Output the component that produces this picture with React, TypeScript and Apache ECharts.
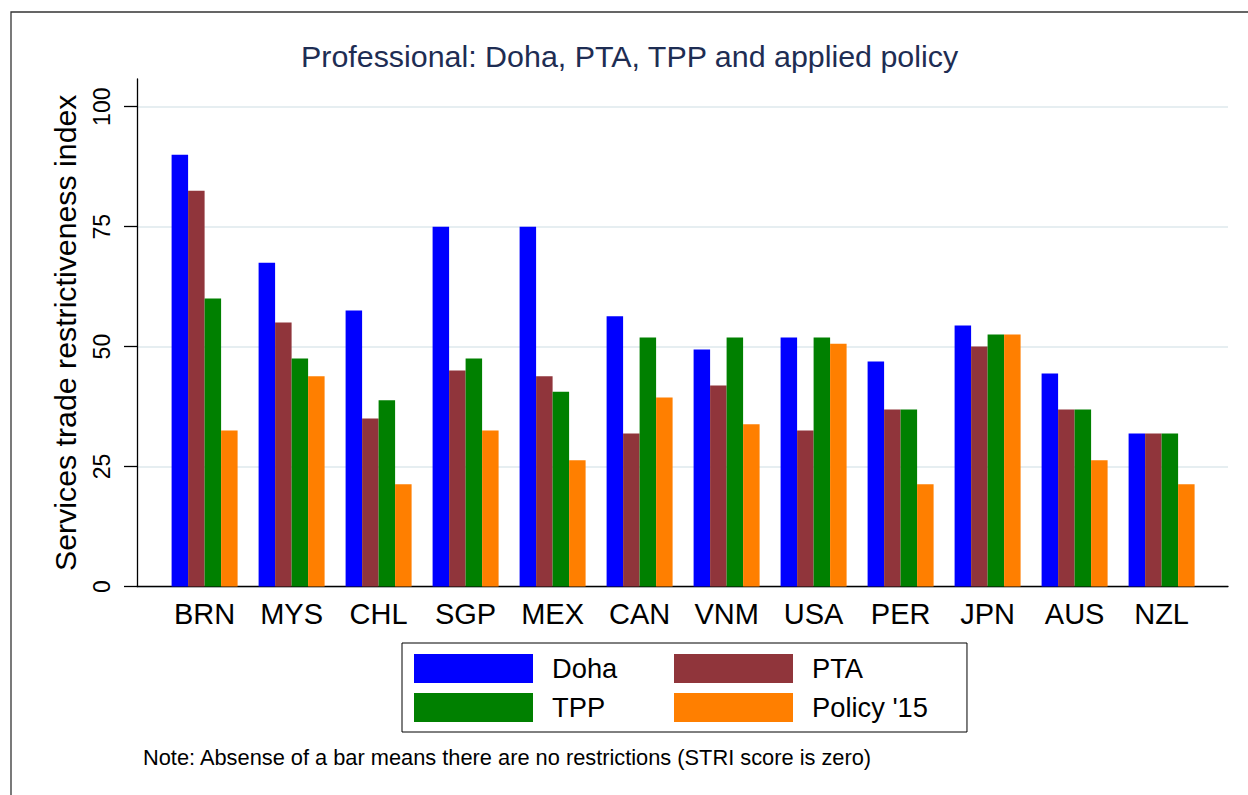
import React, { useEffect, useRef } from "react";
import * as echarts from "echarts";

const countries = ["BRN", "MYS", "CHL", "SGP", "MEX", "CAN", "VNM", "USA", "PER", "JPN", "AUS", "NZL"];
const doha = [90, 67.5, 57.5, 75, 75, 56.3, 49.4, 51.9, 46.9, 54.4, 44.4, 31.9];
const pta = [82.5, 55, 35, 45, 43.8, 31.9, 41.9, 32.5, 36.9, 50, 36.9, 31.9];
const tpp = [60, 47.5, 38.8, 47.5, 40.6, 51.9, 51.9, 51.9, 36.9, 52.5, 36.9, 31.9];
const policy15 = [32.5, 43.8, 21.3, 32.5, 26.3, 39.4, 33.8, 50.6, 21.3, 52.5, 26.3, 21.3];
const yTicks = [0, 25, 50, 75, 100];

const seriesNames = ["Doha", "PTA", "TPP", "Policy '15"];
const seriesColors = ["#0000ff", "#90353b", "#008000", "#ff7f00"];

const FONT = "'Liberation Sans', Arial, Helvetica, sans-serif";

export default function App() {
  const ref = useRef<HTMLDivElement>(null);

  useEffect(() => {
    if (!ref.current) return;
    const chart = echarts.init(ref.current, undefined, { renderer: "svg" });
    const values = [doha, pta, tpp, policy15];
    const plotTop = 106.7;
    const plotH = 479.8;
    const option: any = {
      animation: false,
      backgroundColor: "#ffffff",
      textStyle: { fontFamily: FONT },
      title: {
        text: "Professional: Doha, PTA, TPP and applied policy",
        left: 301,
        top: 41,
        padding: 0,
        textStyle: { fontFamily: FONT, fontSize: 30.4, fontWeight: "normal", color: "#1e2d53" },
      },
      legend: {
        data: seriesNames,
        left: 402,
        top: 643,
        width: 520,
        orient: "horizontal",
        icon: "rect",
        itemWidth: 119,
        itemHeight: 29,
        itemGap: 10,
        padding: [11, 39, 10, 12],
        borderColor: "#000000",
        borderWidth: 1,
        textStyle: {
          fontFamily: FONT,
          fontSize: 27.3,
          color: "#000000",
          width: 112,
          lineHeight: 29,
          overflow: "none",
          padding: [0, 0, 0, 14],
        },
      },
      grid: [
        { left: 137, width: 1091, top: 79, height: 586.5 - 79 },
        { left: 137, width: 1091, top: plotTop, height: plotH },
        { left: 161.1, width: 1044, top: plotTop, height: plotH },
      ],
      xAxis: [
        {
          gridIndex: 0,
          type: "value",
          min: 0,
          max: 1,
          axisLine: { show: true, lineStyle: { color: "#000000", width: 1.3 } },
          axisTick: { show: false },
          axisLabel: { show: false },
          splitLine: { show: false },
        },
        { gridIndex: 1, type: "value", min: 0, max: 1, show: false },
        {
          gridIndex: 2,
          type: "category",
          data: countries,
          axisLine: { show: false },
          axisTick: { show: false },
          axisLabel: { fontFamily: FONT, fontSize: 29, color: "#000000", margin: 13 },
          splitLine: { show: false },
        },
      ],
      yAxis: [
        {
          gridIndex: 0,
          type: "value",
          min: 0,
          max: 1,
          axisLine: { show: true, lineStyle: { color: "#000000", width: 1.3 } },
          axisTick: { show: false },
          axisLabel: { show: false },
          splitLine: { show: false },
          name: "Services trade restrictiveness index",
          nameLocation: "middle",
          nameGap: 57,
          nameTextStyle: { fontFamily: FONT, fontSize: 30.3, color: "#000000" },
        },
        {
          gridIndex: 1,
          type: "value",
          min: yTicks[0],
          max: yTicks[yTicks.length - 1],
          interval: 25,
          axisLine: { show: false },
          axisTick: { show: true, length: 13, lineStyle: { color: "#000000", width: 1.3 } },
          axisLabel: { fontFamily: FONT, fontSize: 23, color: "#000000", rotate: 90, margin: 24 },
          splitLine: { show: true, lineStyle: { color: "#e6eef1", width: 2 } },
        },
        { gridIndex: 2, type: "value", min: 0, max: 100, show: false },
      ],
      series: seriesNames.map((name, i) => ({
        name,
        type: "bar",
        xAxisIndex: 2,
        yAxisIndex: 2,
        data: values[i],
        barWidth: 16.5,
        barGap: "0%",
        itemStyle: { color: seriesColors[i] },
      })),
      graphic: [
        {
          type: "rect",
          shape: { x: 11, y: 12, width: 1400, height: 1000 },
          style: { fill: "none", stroke: "#333333", lineWidth: 1.3 },
          silent: true,
        },
        {
          type: "text",
          x: 143,
          y: 757,
          style: {
            text: "Note: Absense of a bar means there are no restrictions (STRI score is zero)",
            fontFamily: FONT,
            fontSize: 21.8,
            fill: "#000000",
            verticalAlign: "middle",
            textAlign: "left",
          },
          silent: true,
        },
      ],
    };
    chart.setOption(option);
    return () => chart.dispose();
  }, []);

  return (
    <div
      ref={ref}
      style={{ position: "fixed", left: 0, top: 0, width: 1248, height: 795, background: "#fff" }}
    />
  );
}
